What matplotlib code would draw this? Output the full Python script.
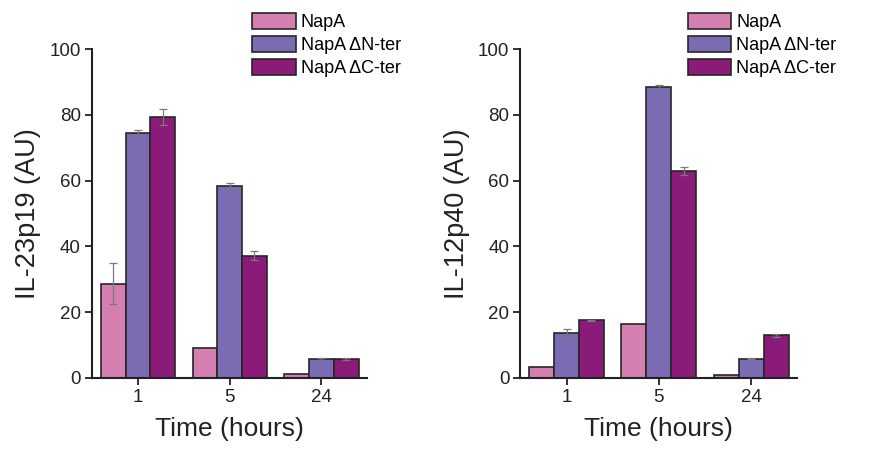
import numpy as np
import matplotlib
matplotlib.use("Agg")
import matplotlib.pyplot as plt

plt.rcParams["font.family"] = ["Liberation Sans", "DejaVu Sans"]

# ── Data ──────────────────────────────────────────────────────────────────────
times = ["1", "5", "24"]
series = ["NapA", "NapA \u0394N-ter", "NapA \u0394C-ter"]

il23_napa = [28.7, 9.2, 1.2]
il23_dn = [74.5, 58.3, 5.8]
il23_dc = [79.3, 37.2, 5.8]
il23_napa_err = [6.3, 0.0, 0.0]
il23_dn_err = [1.0, 1.0, 0.2]
il23_dc_err = [2.5, 1.3, 0.4]

il12_napa = [3.2, 16.3, 0.8]
il12_dn = [13.8, 88.5, 5.9]
il12_dc = [17.5, 62.9, 13.0]
il12_napa_err = [0.0, 0.0, 0.0]
il12_dn_err = [1.0, 0.5, 0.2]
il12_dc_err = [0.2, 1.2, 0.5]

colors = ["#D47FB0", "#7A6BB2", "#8A1B78"]
EDGE = "#262626"
W = 0.27

fig = plt.figure(figsize=(8.85, 4.5), dpi=100)
ax1 = fig.add_axes([0.104, 0.16, 0.311, 0.731])
ax2 = fig.add_axes([0.588, 0.16, 0.313, 0.731])


def draw(ax, vals, errs, ylabel, leg_x):
    x = np.arange(len(times))
    for k, (v, e) in enumerate(zip(vals, errs)):
        xs = x + (k - 1) * W
        ax.bar(xs, v, width=W, color=colors[k], edgecolor=EDGE, lw=1.2,
               label=series[k], zorder=2)
        # only draw error bars where there is a spread
        e = np.asarray(e)
        m = e > 0
        if m.any():
            ax.errorbar(xs[m], np.asarray(v)[m], yerr=e[m], fmt="none",
                        ecolor="#7a7a7a", elinewidth=0.9, capsize=3,
                        capthick=0.9, zorder=3)
    ax.set_xlim(-0.5, 2.5)
    ax.set_ylim(0, 100)
    ax.set_xticks(x)
    ax.set_xticklabels(times)
    ax.set_yticks(np.arange(0, 101, 20))
    for s in ("top", "right"):
        ax.spines[s].set_visible(False)
    for s in ("left", "bottom"):
        ax.spines[s].set_linewidth(1.5)
        ax.spines[s].set_color("#222222")
    ax.tick_params(axis="both", direction="out", length=5, width=1.3,
                   labelsize=13.5, colors="#222222", pad=3)
    ax.set_xlabel("Time (hours)", fontsize=19, color="#222222", labelpad=8)
    ax.set_ylabel(ylabel, fontsize=19.5, color="#222222", labelpad=6)
    ax.legend(loc="upper left", bbox_to_anchor=(leg_x, 0.972),
              bbox_transform=fig.transFigure, frameon=False, fontsize=13,
              handlelength=2.4, handleheight=1.05, handletextpad=0.3,
              labelspacing=0.25, borderpad=0, borderaxespad=0)


draw(ax1, [il23_napa, il23_dn, il23_dc],
     [il23_napa_err, il23_dn_err, il23_dc_err], "IL-23p19 (AU)", 0.285)
draw(ax2, [il12_napa, il12_dn, il12_dc],
     [il12_napa_err, il12_dn_err, il12_dc_err], "IL-12p40 (AU)", 0.777)

fig.savefig("out.png", dpi=100)
